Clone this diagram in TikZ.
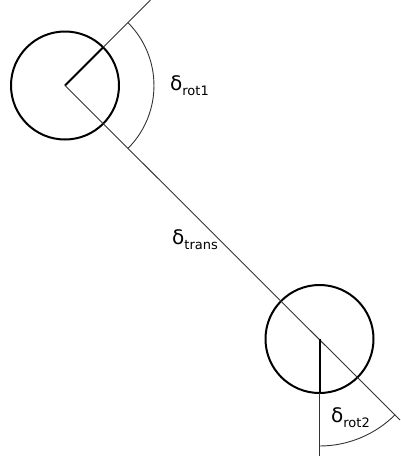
\documentclass[tikz,border=0pt]{standalone}
\usepackage{fontspec}
\setmainfont{DejaVu Sans}
\usetikzlibrary{calc}
\newcommand\lblsub[1]{\raisebox{-5pt}{\fontsize{13}{13}\selectfont #1}}
\begin{document}
\begin{tikzpicture}[x=1pt,y=-1pt,
  thinline/.style={draw=black!80, line width=0.9pt},
  thickline/.style={draw=black, line width=2pt},
  robot/.style={circle, draw=black, line width=2pt, minimum size=108pt, inner sep=0pt},
  lbl/.style={font=\fontsize{20}{20}\selectfont, inner sep=0pt, anchor=base west}]
\useasboundingbox (0,0) rectangle (401,461);
\coordinate (c1) at (65,85.5);
\coordinate (c2) at (319.5,339);
\coordinate (t1) at (150.5,0);
\coordinate (e1) at (400,420);
\coordinate (v2) at (319.5,456);
\node[robot] (r1) at (c1) {};
\node[robot] (r2) at (c2) {};
% heading lines
\draw[thinline] (c1) -- (t1);
\draw[thickline] (c1) -- ($(c1)+(38.2,-38.2)$);
\draw[thinline] (c1) -- (e1);
\draw[thinline] (c2) -- (v2);
\draw[thickline] (c2) -- ($(c2)+(0,54)$);
% angle arcs
\draw[thinline] ($(c1)+(62.9,-62.9)$) arc[start angle=-45, end angle=45, radius=89];
\draw[thinline] ($(c2)+(0,107)$) arc[start angle=90, end angle=45, radius=107];
% labels
\node[lbl] (l1) at (170,90) {δ\lblsub{rot1}};
\node[lbl] (l2) at (172,244) {δ\lblsub{trans}};
\node[lbl] (l3) at (331,422) {δ\lblsub{rot2}};
\end{tikzpicture}
\end{document}
